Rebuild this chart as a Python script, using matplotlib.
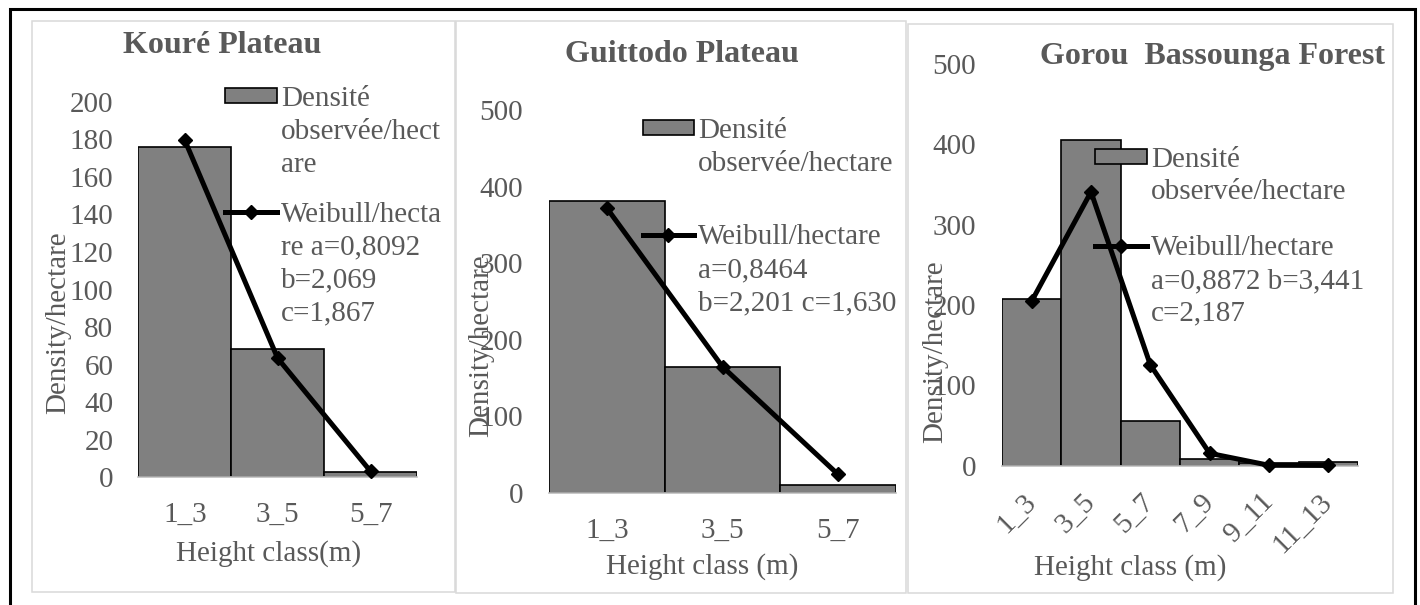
import numpy as np
import matplotlib
matplotlib.use('Agg')
import matplotlib.pyplot as plt
import matplotlib.transforms as mtransforms
from matplotlib.patches import Rectangle
from matplotlib.legend_handler import HandlerPatch, HandlerLine2D, update_from_first_child

plt.rcParams['font.family'] = ['Liberation Serif', 'DejaVu Serif']

# ---------------- data ----------------
koure_classes = ['1_3', '3_5', '5_7']
koure_observed = [176, 68.5, 3]
koure_weibull = [179.5, 63.4, 3.2]

guittodo_classes = ['1_3', '3_5', '5_7']
guittodo_observed = [381, 164, 9.6]
guittodo_weibull = [371.5, 164.6, 24]

gorou_classes = ['1_3', '3_5', '5_7', '7_9', '9_11', '11_13']
gorou_observed = [208, 406, 55.6, 8, 3, 4]
gorou_weibull = [204.8, 340.8, 125.5, 15.4, 0.5, 0.3]

titles = ['Kouré Plateau', 'Guittodo Plateau', 'Gorou  Bassounga Forest']
ylabel_text = 'Density/hectare'
xlabels = ['Height class(m)', 'Height class (m)', 'Height class (m)']
observed_labels = ['Densité\nobservée/hect\nare',
                   'Densité\nobservée/hectare',
                   'Densité\nobservée/hectare']
weibull_labels = ['Weibull/hecta\nre a=0,8092\nb=2,069\nc=1,867',
                  'Weibull/hectare\na=0,8464\nb=2,201 c=1,630',
                  'Weibull/hectare\na=0,8872 b=3,441\nc=2,187']
y_max = [200, 500, 500]
y_step = [20, 100, 100]

# ---------------- style / layout (pixels) ----------------
W, H = 1420, 605
FS = 21
TITLE_FS = 23
TXT = '#595959'
BAR = '#808080'
LS = 1.34
S_PT = (0.217 + 0.683 * LS) * FS

layout = [
    dict(ax=(138.3, 417.0, 101.7, 477.3), border=(32, 455, 20.7, 591.7),
         title=(222, 61), xlab=(268.3, 561), ylab=(58.2, 322.5),
         leg=(225, 86), legsp=0.82, rot=0, xpad=17.5, ypad=18.0),
    dict(ax=(549.3, 895.7, 110.0, 492.7), border=(456, 906, 20.7, 593.3),
         title=(681.7, 70), xlab=(702, 573.5), ylab=(481.5, 345.5),
         leg=(642.5, 118.3), legsp=1.62, rot=0, xpad=18.0, ypad=19.0),
    dict(ax=(1002.0, 1358.0, 64.0, 465.7), border=(908, 1392.7, 24, 593.3),
         title=(1212.5, 72.7), xlab=(1129.7, 575), ylab=(934.9, 351.5),
         leg=(1095, 146.7), legsp=1.02, rot=45, xpad=23.0, ypad=18.7),
]


def fxp(x):
    return x / W


def fyp(y):
    return 1 - y / H


class FirstLinePatch(HandlerPatch):
    def __init__(self, shift, **kw):
        super().__init__(**kw)
        self.shift = shift

    def create_artists(self, legend, orig_handle, xdescent, ydescent,
                       width, height, fontsize, trans):
        arts = super().create_artists(legend, orig_handle, xdescent, ydescent,
                                      width, height, fontsize, trans)
        t = mtransforms.Affine2D().translate(0, self.shift) + trans
        for a in arts:
            a.set_transform(t)
        return arts


class FirstLineLine(HandlerLine2D):
    def __init__(self, shift, **kw):
        super().__init__(**kw)
        self.shift = shift

    def create_artists(self, legend, orig_handle, xdescent, ydescent,
                       width, height, fontsize, trans):
        arts = super().create_artists(legend, orig_handle, xdescent, ydescent,
                                      width, height, fontsize, trans)
        t = mtransforms.Affine2D().translate(0, self.shift) + trans
        for a in arts:
            a.set_transform(t)
        return arts


def first_line_shift(label):
    n = label.count('\n') + 1
    return 0.1085 * FS + 0.5 * (n - 1) * S_PT


fig = plt.figure(figsize=(W / 100, H / 100), dpi=100)

# outer black frame (bottom edge runs past the picture)
fig.add_artist(Rectangle((fxp(10), fyp(640)), fxp(1415) - fxp(10), fyp(9.3) - fyp(640),
                         transform=fig.transFigure, fill=False, ec='black', lw=2.2))

datasets = [
    (koure_classes, koure_observed, koure_weibull),
    (guittodo_classes, guittodo_observed, guittodo_weibull),
    (gorou_classes, gorou_observed, gorou_weibull),
]

for i, (classes, observed, weibull) in enumerate(datasets):
    L = layout[i]
    x0, x1, yt, yb = L['ax']
    bx0, bx1, by0, by1 = L['border']
    fig.add_artist(Rectangle((fxp(bx0), fyp(by1)), fxp(bx1) - fxp(bx0), fyp(by0) - fyp(by1),
                             transform=fig.transFigure, fill=False, ec='#d9d9d9', lw=1.1))

    ax = fig.add_axes([fxp(x0), fyp(yb), fxp(x1) - fxp(x0), fyp(yt) - fyp(yb)])
    ax.patch.set_alpha(0)

    def afx(px):
        return (px - x0) / (x1 - x0)

    def afy(py):
        return (yb - py) / (yb - yt)

    xs = np.arange(len(classes))
    bars = ax.bar(xs, observed, width=1.0, color=BAR, edgecolor='black', linewidth=1.2,
                  zorder=1)
    line, = ax.plot(xs, weibull, color='black', lw=3.6, marker='D', ms=7.5,
                    clip_on=False, zorder=4)

    ax.set_xlim(-0.5, len(classes) - 0.5)
    ax.set_ylim(0, y_max[i])
    ax.set_yticks(np.arange(0, y_max[i] + 1, y_step[i]))
    ax.set_xticks(xs)
    if L['rot']:
        ax.set_xticklabels(classes, rotation=L['rot'], ha='right', va='center',
                           rotation_mode='anchor')
    else:
        ax.set_xticklabels(classes)

    for s in ['left', 'right', 'top']:
        ax.spines[s].set_visible(False)
    ax.spines['bottom'].set_color('#bfbfbf')
    ax.spines['bottom'].set_linewidth(1.2)
    ax.spines['bottom'].set_zorder(3)

    ax.tick_params(axis='both', length=0, labelsize=FS, labelcolor=TXT)
    ax.tick_params(axis='x', pad=L['xpad'])
    ax.tick_params(axis='y', pad=L['ypad'])

    ax.set_xlabel(xlabels[i], fontsize=FS, color=TXT, va='baseline')
    ax.xaxis.set_label_coords(afx(L['xlab'][0]), afy(L['xlab'][1]))
    ax.set_ylabel(ylabel_text, fontsize=FS, color=TXT, va='center')
    ax.yaxis.set_label_coords(afx(L['ylab'][0]), afy(L['ylab'][1]))

    t = ax.set_title(titles[i], fontsize=TITLE_FS, fontweight='bold', color=TXT,
                     y=afy(L['title'][1]), va='baseline')
    t.set_x(afx(L['title'][0]))
    t.set_ha('center')

    lx, ly = L['leg']
    leg = ax.legend([bars, line], [observed_labels[i], weibull_labels[i]],
                    handler_map={
                        bars: FirstLinePatch(first_line_shift(observed_labels[i]),
                                             update_func=update_from_first_child),
                        line: FirstLineLine(first_line_shift(weibull_labels[i])),
                    },
                    loc='upper left', bbox_to_anchor=(fxp(lx), fyp(ly)),
                    bbox_transform=fig.transFigure, frameon=False, fontsize=FS,
                    labelcolor=TXT, borderpad=0, borderaxespad=0,
                    handlelength=1.78, handleheight=0.414, handletextpad=0.13,
                    labelspacing=L['legsp'])
    for tx in leg.get_texts():
        tx.set_linespacing(LS)

fig.savefig('out.png', dpi=100)
